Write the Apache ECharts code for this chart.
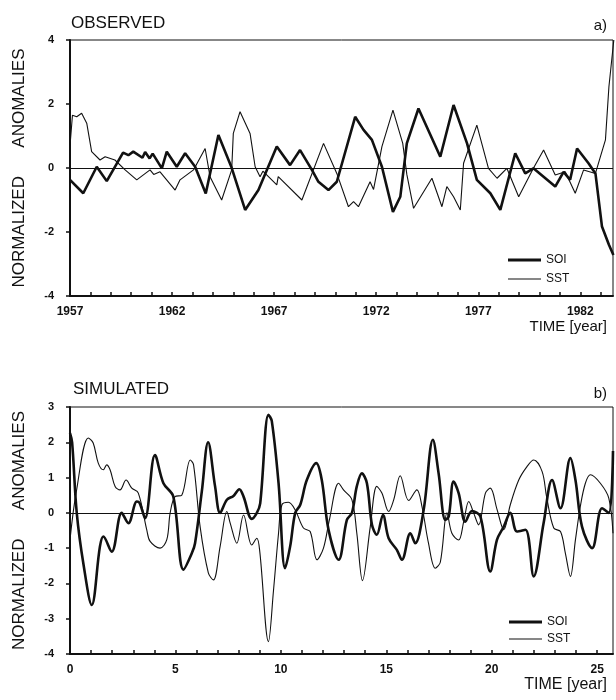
<!DOCTYPE html>
<html>
<head>
<meta charset="utf-8">
<script src="https://cdn.jsdelivr.net/npm/echarts@6/dist/echarts.min.js"></script>
<style>
  html, body { margin: 0; padding: 0; background: #fff; }
  #chart { width: 616px; height: 700px; }
</style>
</head>
<body>
<div id="chart"></div>
<script>
// observed panel: years after 1957 and normalized values
var obsSoiT = [0, 0.65, 1.31, 1.8, 2.6, 2.86, 3.1, 3.55, 3.68, 3.9, 4.05, 4.5, 4.74, 5.23, 5.64, 6.13, 6.65, 7.27, 7.9, 8.58, 9.23, 10.13, 10.78, 11.27, 11.85, 12.17, 12.66, 13.07, 13.97, 14.38, 14.79, 15.28, 15.82, 16.18, 16.5, 17.07, 18.14, 18.79, 19.45, 19.93, 20.59, 21.08, 21.81, 22.3, 22.7, 23.77, 24.18, 24.5, 24.84, 25.4, 25.74, 26.06, 26.4, 26.62];
var obsSoi = [-0.37, -0.79, 0.04, -0.41, 0.48, 0.4, 0.51, 0.32, 0.5, 0.3, 0.45, -0.01, 0.51, 0.04, 0.46, 0.04, -0.8, 1.03, 0.04, -1.31, -0.69, 0.67, 0.09, 0.56, -0.06, -0.43, -0.69, -0.43, 1.6, 1.19, 0.88, 0.04, -1.37, -0.9, 0.77, 1.86, 0.35, 1.97, 0.77, -0.37, -0.79, -1.31, 0.46, -0.17, -0.01, -0.58, -0.12, -0.37, 0.61, 0.15, -0.17, -1.83, -2.4, -2.72];
var obsSstT = [0, 0.12, 0.33, 0.57, 0.82, 1.06, 1.47, 1.72, 2.2, 2.7, 3.27, 3.92, 4.1, 4.41, 5.15, 5.39, 6.05, 6.62, 6.86, 7.43, 7.92, 8.0, 8.33, 8.82, 9.07, 9.31, 9.45, 10.13, 10.2, 11.36, 12.42, 13.07, 13.64, 13.89, 14.13, 14.7, 14.87, 15.28, 15.82, 16.3, 16.5, 16.83, 17.73, 18.22, 18.46, 18.79, 19.12, 19.28, 19.93, 20.5, 20.92, 21.4, 21.98, 22.7, 23.2, 23.77, 24.26, 24.75, 25.16, 25.74, 25.98, 26.23, 26.4, 26.64];
var obsSst = [0.7, 1.65, 1.6, 1.71, 1.4, 0.51, 0.25, 0.35, 0.25, -0.06, -0.37, -0.06, -0.2, -0.12, -0.69, -0.37, -0.06, 0.61, -0.27, -1.0, -0.06, 1.08, 1.76, 1.08, 0.04, -0.27, -0.1, -0.53, -0.27, -1.0, 0.77, -0.17, -1.21, -1.05, -1.21, -0.43, -0.67, 0.67, 1.81, 0.77, -0.2, -1.26, -0.32, -1.21, -0.58, -0.9, -1.31, 0.15, 1.34, -0.01, -0.32, -0.01, -0.9, -0.01, 0.56, -0.22, -0.12, -0.79, -0.06, -0.17, 0.35, 0.88, 2.54, 4.0];

// simulated panel: model time in years
var simSoiT = [0, 0.1, 0.32, 0.65, 1.03, 1.42, 1.58, 1.98, 2.45, 2.77, 3.17, 3.3, 3.56, 4.03, 4.43, 4.9, 5.38, 5.78, 5.93, 6.25, 6.55, 6.88, 7.12, 7.44, 7.75, 8.03, 8.23, 8.62, 8.86, 9.02, 9.41, 9.57, 9.89, 10.2, 10.44, 10.68, 10.92, 11.23, 11.68, 11.94, 12.26, 12.74, 13.13, 13.37, 13.6, 13.84, 14.08, 14.32, 14.55, 14.84, 15.11, 15.5, 15.74, 16.14, 16.37, 16.77, 17.21, 17.48, 17.8, 17.96, 18.19, 18.43, 18.75, 19.06, 19.46, 19.93, 20.25, 20.57, 20.88, 21.2, 21.6, 21.99, 22.46, 22.86, 23.26, 23.73, 23.97, 24.28, 24.76, 25.23, 25.55, 25.75];
var simSoi = [2.26, 2.0, 0, -1.5, -2.61, -0.95, -0.67, -1.1, 0, -0.29, 0.32, 0.28, -0.15, 1.64, 0.84, 0.46, -1.61, -1.14, -0.86, 0.6, 2.0, 0.75, 0, 0.37, 0.48, 0.67, 0.46, -0.17, 0, 0.27, 2.78, 2.6, 0.84, -1.57, -0.95, 0, 0.23, 0.93, 1.41, 0.93, -0.48, -1.33, -0.2, 0, 0.75, 1.12, 0.84, -0.34, -0.62, -0.06, -0.72, -1.05, -1.33, -0.58, -0.86, 0.08, 2.07, 1.12, -0.2, -0.1, 0.89, 0.56, -0.25, 0.05, -0.1, -1.66, -0.76, -0.39, 0, -0.53, -0.48, -1.8, -0.29, 0.93, 0.13, 1.55, 0.93, -0.39, -1.0, 0.13, 0, 1.75];
var simSstT = [0, 0.3, 0.87, 1.1, 1.34, 1.58, 1.74, 1.9, 2.14, 2.37, 2.66, 2.93, 3.24, 3.64, 3.8, 4.27, 4.59, 4.75, 4.98, 5.3, 5.7, 5.86, 6.17, 6.56, 6.8, 7.12, 7.44, 7.6, 7.91, 8.23, 8.62, 8.86, 9.0, 9.41, 9.65, 9.89, 10.05, 10.36, 10.68, 11.07, 11.39, 11.71, 12.02, 12.3, 12.74, 12.97, 13.37, 13.6, 13.87, 14.24, 14.55, 14.79, 15.11, 15.35, 15.66, 16.06, 16.45, 16.69, 17.0, 17.32, 17.56, 17.88, 18.11, 18.43, 18.67, 18.91, 19.14, 19.38, 19.7, 19.93, 20.25, 20.57, 20.88, 21.28, 21.67, 21.99, 22.39, 22.6, 22.94, 23.26, 23.49, 23.73, 23.97, 24.2, 24.44, 24.68, 25.15, 25.55, 25.75];
var simSst = [-0.76, 0.6, 2.12, 1.98, 1.41, 1.22, 1.36, 1.22, 0.75, 0.65, 0.93, 0.7, 0.56, -0.48, -0.81, -1.0, -0.76, 0, 0.46, 0.5, 1.5, 1.36, -0.39, -1.7, -1.9, -0.95, 0.04, -0.3, -0.86, -0.06, -0.91, -0.72, -1.1, -3.65, -2.2, -0.57, 0.23, 0.3, 0.08, -0.43, -0.53, -1.33, -1.0, -0.2, 0.84, 0.65, 0.37, -0.57, -1.92, -0.39, 0.75, 0.56, 0.04, 0.37, 1.05, 0.35, 0.65, 0.18, -0.86, -1.57, -1.4, 0, -0.58, -0.77, -0.25, 0.32, 0, -0.34, 0.56, 0.7, 0.1, -0.48, 0.23, 0.93, 1.31, 1.5, 1.17, 0.46, -0.43, -0.53, -1.14, -1.8, -0.76, 0.18, 0.84, 1.08, 0.84, 0.42, -0.58];

var seriesNames = ['SOI', 'SST'];
var obsStartYear = 1957;

function pairs(ts, vs, offset) {
  return ts.map(function (t, i) { return [t + offset, vs[i]]; });
}

var font = 'Liberation Sans';
var ink = '#111';

function xAxisFor(idx, min, max, labelFn) {
  return {
    type: 'value', gridIndex: idx, min: min, max: max, interval: 1,
    axisLine: { onZero: false, lineStyle: { color: ink, width: 2 } },
    axisTick: { inside: true, length: 4, lineStyle: { color: ink, width: 1.5 } },
    splitLine: { show: false },
    axisLabel: {
      margin: 10, color: ink, fontFamily: font, fontSize: 12, fontWeight: 'bold',
      showMaxLabel: false, formatter: labelFn
    }
  };
}

function yAxisFor(idx, min, max, interval) {
  return {
    type: 'value', gridIndex: idx, min: min, max: max, interval: interval,
    name: 'NORMALIZED      ANOMALIES', nameLocation: 'middle', nameGap: 42, nameRotate: 90,
    nameTextStyle: { color: ink, fontFamily: font, fontSize: 17 },
    axisLine: { lineStyle: { color: ink, width: 2 } },
    axisTick: { length: 4, lineStyle: { color: ink, width: 1.5 } },
    splitLine: { show: false },
    axisLabel: { margin: 16, color: ink, fontFamily: font, fontSize: 11, fontWeight: 'bold' }
  };
}

function lineSeries(name, idx, data, width, smooth, zero) {
  var s = {
    name: name, type: 'line', xAxisIndex: idx, yAxisIndex: idx,
    data: data, symbol: 'none', smooth: smooth,
    lineStyle: { color: ink, width: width }, itemStyle: { color: ink }
  };
  if (zero) {
    s.markLine = {
      silent: true, symbol: 'none', label: { show: false },
      lineStyle: { color: ink, width: 1, type: 'solid' },
      data: [{ yAxis: 0 }]
    };
  }
  return s;
}

// legend keys: a thick bar for SOI, a hairline for SST
var legendKeys = [
  { name: seriesNames[0], icon: 'path://M0,0L33,0L33,3L0,3Z' },
  { name: seriesNames[1], icon: 'path://M0,0L33,0L33,1L0,1Z' }
];

var option = {
  animation: false,
  backgroundColor: '#fff',
  title: [
    { text: 'OBSERVED', left: 66, top: 10, textStyle: { fontFamily: font, fontSize: 17, fontWeight: 'normal', color: ink } },
    { text: 'a)', right: 4, top: 13, textStyle: { fontFamily: font, fontSize: 15, fontWeight: 'normal', color: ink } },
    { text: 'TIME [year]', right: 4, top: 314, textStyle: { fontFamily: font, fontSize: 15, fontWeight: 'normal', color: ink } },
    { text: 'SIMULATED', left: 68, top: 376, textStyle: { fontFamily: font, fontSize: 17, fontWeight: 'normal', color: ink } },
    { text: 'b)', right: 4, top: 381, textStyle: { fontFamily: font, fontSize: 15, fontWeight: 'normal', color: ink } },
    { text: 'TIME [year]', right: 4, top: 672, textStyle: { fontFamily: font, fontSize: 16, fontWeight: 'normal', color: ink } }
  ],
  legend: [
    {
      data: legendKeys, orient: 'vertical', left: 503, top: 249,
      itemWidth: 33, itemHeight: 10, itemGap: 7, selectedMode: false,
      textStyle: { fontFamily: font, fontSize: 12, color: ink }
    },
    {
      data: legendKeys, orient: 'vertical', left: 504, top: 611,
      itemWidth: 33, itemHeight: 10, itemGap: 5, selectedMode: false,
      textStyle: { fontFamily: font, fontSize: 12, color: ink }
    }
  ],
  grid: [
    { left: 70, right: 3, top: 40, height: 256, show: true, borderColor: ink, borderWidth: 1 },
    { left: 70, right: 3, top: 407, height: 247, show: true, borderColor: ink, borderWidth: 1 }
  ],
  xAxis: [
    xAxisFor(0, obsStartYear, 1983.6, function (v) {
      return (v - obsStartYear) % 5 === 0 ? String(v) : '';
    }),
    xAxisFor(1, 0, 25.75, function (v) {
      return v % 5 === 0 ? String(v) : '';
    })
  ],
  yAxis: [
    yAxisFor(0, -4, 4, 2),
    yAxisFor(1, -4, 3, 1)
  ],
  series: [
    lineSeries('SOI', 0, pairs(obsSoiT, obsSoi, obsStartYear), 2.6, false, true),
    lineSeries('SST', 0, pairs(obsSstT, obsSst, obsStartYear), 1.1, false, false),
    lineSeries('SOI', 1, pairs(simSoiT, simSoi, 0), 2.6, 0.35, true),
    lineSeries('SST', 1, pairs(simSstT, simSst, 0), 1.1, 0.35, false)
  ]
};

var chart = echarts.init(document.getElementById('chart'));
chart.setOption(option);
</script>
</body>
</html>
